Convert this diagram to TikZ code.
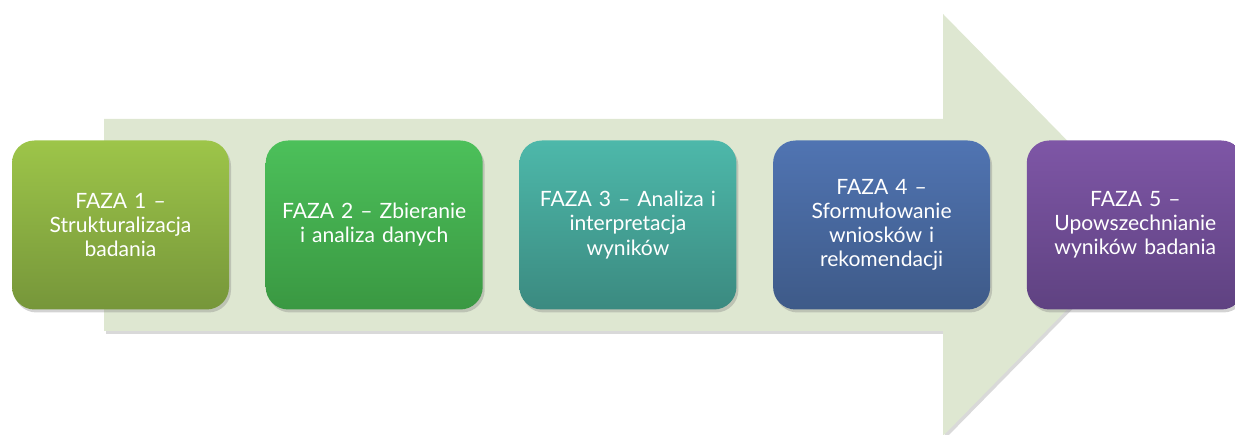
\documentclass[tikz,border=0pt]{standalone}
\usepackage{fontspec}
\setmainfont{Lato}
\usetikzlibrary{positioning,shadows}

\definecolor{arrowfill}{HTML}{DEE7D1}

\begin{document}
\begin{tikzpicture}[
            node distance=0.72cm,
            faza/.style={rectangle, rounded corners=0.45cm, minimum width=4.34cm,
                minimum height=3.38cm, inner xsep=0.06cm, text width=4.2cm, align=center,
                text=white, font=\fontsize{12}{13.7}\selectfont,
                drop shadow={shadow xshift=0.04cm, shadow yshift=-0.06cm, opacity=0.35}},
            ]
            \useasboundingbox (0,0) rectangle (24.7,8.7);
            % strzalka w tle
            \fill[arrowfill, drop shadow={shadow xshift=0.04cm, shadow yshift=-0.06cm, opacity=0.3}]
                (2.08,2.08) -- (2.08,6.32) -- (18.86,6.32) -- (18.86,8.42)
                -- (23.0,4.2) -- (18.86,-0.02) -- (18.86,2.08) -- cycle;

            \node (F1) [faza, top color={rgb,255:red,157;green,197;blue,73},
                bottom color={rgb,255:red,118;green,150;blue,58}] at (2.41,4.2)
                {FAZA 1 --\\Strukturalizacja\\badania};
            \node (F2) [faza, right=of F1, top color={rgb,255:red,76;green,192;blue,90},
                bottom color={rgb,255:red,58;green,152;blue,66}]
                {FAZA 2 -- Zbieranie\\i analiza danych};
            \node (F3) [faza, right=of F2, top color={rgb,255:red,77;green,184;blue,170},
                bottom color={rgb,255:red,59;green,138;blue,128}]
                {FAZA 3 -- Analiza i\\interpretacja\\wyników};
            \node (F4) [faza, right=of F3, top color={rgb,255:red,80;green,116;blue,178},
                bottom color={rgb,255:red,62;green,90;blue,136}]
                {FAZA 4 --\\Sformułowanie\\wniosków i\\rekomendacji};
            \node (F5) [faza, right=of F4, top color={rgb,255:red,126;green,86;blue,166},
                bottom color={rgb,255:red,95;green,66;blue,129}]
                {FAZA 5 --\\Upowszechnianie\\wyników badania};
        \end{tikzpicture}
\end{document}
